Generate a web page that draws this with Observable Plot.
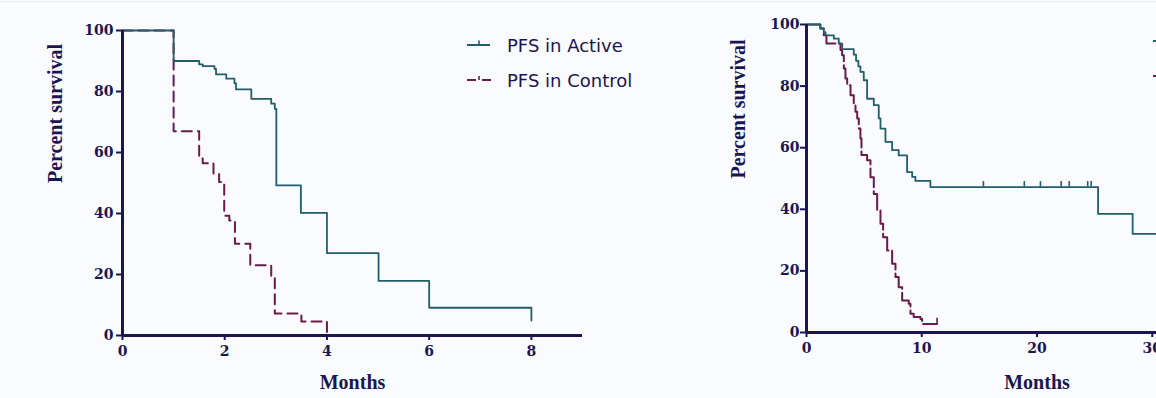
<!DOCTYPE html>
<html>
<head>
<meta charset="utf-8">
<script src="https://cdn.jsdelivr.net/npm/d3@7"></script>
<script src="https://cdn.jsdelivr.net/npm/@observablehq/plot@0.6"></script>
<style>
html,body{margin:0;padding:0;background:#f9fbfe;overflow:hidden;}
#wrap{position:relative;width:1156px;height:398px;overflow:hidden;background:#f9fbfe;}
.panel{position:absolute;top:0;overflow:hidden;}
.panel svg{max-width:none !important;height:398px !important;}
.topline{position:absolute;left:0;top:1px;width:1156px;height:1px;background:#e8ebf0;}
</style>
</head>
<body>
<div id="wrap"><div class="topline"></div></div>
<script>
// ---- Left panel data ----
const leftXTicks = [0, 2, 4, 6, 8];
const leftActiveMonths = [0, 1.0, 1.5, 1.57, 1.8, 1.83, 2.03, 2.19, 2.22, 2.52, 2.91, 2.98, 3.01, 3.49, 4.0, 5.01, 6.0, 8.0];
const leftActiveSurv   = [100, 90, 88.9, 88.3, 87.4, 85.6, 84.2, 82.7, 80.7, 77.6, 76.0, 74.3, 49.2, 40.2, 27.0, 17.9, 9.1, 4.9];
const leftControlMonths = [0, 1.0, 1.5, 1.57, 1.78, 1.89, 1.99, 2.09, 2.2, 2.5, 2.91, 2.98, 3.5, 4.0];
const leftControlSurv   = [100, 67, 58, 56.5, 53, 50.3, 39.3, 37.7, 30.1, 23, 19.2, 7.2, 4.6, 0];

// ---- Right panel data ----
const rightXTicks = [0, 10, 20, 30, 40];
const rightActiveMonths = [0, 1.2, 1.5, 1.65, 2.37, 2.8, 3.1, 4.1, 4.3, 4.5, 4.68, 4.97, 5.26, 5.84, 6.27, 6.42, 6.85, 7.43, 8.0, 8.73, 9.17, 9.45, 10.75, 25.3, 28.3, 34];
const rightActiveSurv   = [100, 98.7, 97.5, 96.5, 95.4, 93.8, 92.0, 90.2, 88.2, 86.4, 84.6, 81.9, 75.9, 73.8, 69.5, 66.2, 61.9, 59.2, 57.5, 52.1, 50.5, 49.2, 47.2, 38.5, 32.0, 32.0];
const rightActiveCensorMonths = [15.35, 18.9, 20.3, 22.1, 22.8, 24.4, 24.7];
const rightActiveCensorSurv   = [47.2, 47.2, 47.2, 47.2, 47.2, 47.2, 47.2];
const rightControlMonths = [0, 1.2, 1.5, 1.73, 2.95, 3.09, 3.24, 3.38, 3.53, 3.82, 4.1, 4.25, 4.4, 4.54, 4.68, 4.77, 5.26, 5.55, 5.84, 6.13, 6.42, 6.65, 7.0, 7.43, 7.72, 8.0, 8.3, 8.87, 9.02, 9.3, 9.89, 10.03, 11.33];
const rightControlSurv   = [100, 98.7, 96.5, 93.8, 91.7, 90.0, 85.7, 82.5, 80.3, 77.0, 74.4, 71.7, 69.5, 66.2, 63.0, 57.6, 55.9, 50.4, 45.0, 39.6, 35.3, 30.9, 26.6, 22.3, 18.0, 14.7, 10.4, 9.3, 6.1, 5.0, 4.4, 2.8, 2.8];
const rightControlCensorMonths = [11.33];
const rightControlCensorSurv   = [2.8];

const yTicks = [0, 20, 40, 60, 80, 100];
const seriesNames = ["PFS in Active", "PFS in Control"];
const yLabel = "Percent survival";
const xLabel = "Months";

const navy = "#1b1652";
const teal = "#215e6c";
const maroon = "#6a1a4b";

const toRows = (ms, ss) => ms.map((m, i) => ({m, s: ss[i]}));

function panel(o) {
  const active = toRows(o.activeM, o.activeS);
  const control = toRows(o.controlM, o.controlS);
  const aC = toRows(o.aCensorM || [], o.aCensorS || []);
  const cC = toRows(o.cCensorM || [], o.cCensorS || []);
  return Plot.plot({
    width: o.width, height: 398,
    marginLeft: o.marginLeft, marginRight: o.marginRight,
    marginTop: o.marginTop, marginBottom: o.marginBottom,
    x: {domain: o.xDomain},
    y: {domain: [0, 100]},
    style: {background: "transparent", color: navy, fontFamily: "DejaVu Serif", fontSize: "14px", fontWeight: "bold", overflow: "visible", maxWidth: "none"},
    marks: [
      Plot.line(control, {x: "m", y: "s", curve: "step-after", stroke: maroon, strokeWidth: 2, strokeDasharray: o.dash}),
      Plot.ruleX(cC, {x: "m", y1: "s", y2: d => d.s + 1.8, stroke: maroon, strokeWidth: 1.6}),
      Plot.line(active, {x: "m", y: "s", curve: "step-after", stroke: teal, strokeWidth: 1.8}),
      Plot.ruleX(aC, {x: "m", y1: "s", y2: d => d.s + 1.8, stroke: teal, strokeWidth: 1.6}),
      Plot.axisY({ticks: yTicks, tickSize: 6, tickPadding: o.yPad, strokeWidth: 2, label: null}),
      Plot.axisX({ticks: o.xTicks, tickSize: 5, tickPadding: 6, strokeWidth: 2, label: null}),
      Plot.ruleX([0], {stroke: navy, strokeWidth: 3}),
      Plot.ruleY([0], {stroke: navy, strokeWidth: 3}),
      Plot.text([xLabel], {text: d => d, frameAnchor: "bottom", dy: o.monthsDy, lineAnchor: "middle", fontFamily: "Liberation Serif", fontSize: 20, fontWeight: "bold", fill: navy}),
      Plot.text([yLabel], {text: d => d, frameAnchor: "left", rotate: -90, dx: o.labelDx, lineAnchor: "middle", fontFamily: "Liberation Serif", fontSize: 20, fontWeight: "bold", fill: navy})
    ]
  });
}

const wrap = document.getElementById("wrap");

const leftDiv = document.createElement("div");
leftDiv.className = "panel";
leftDiv.style.left = "0px"; leftDiv.style.width = "650px"; leftDiv.style.height = "398px";
leftDiv.append(panel({
  width: 640, marginLeft: 122, marginRight: 58, marginTop: 30, marginBottom: 63,
  xDomain: [0, 9], xTicks: leftXTicks, yPad: 3,
  activeM: leftActiveMonths, activeS: leftActiveSurv,
  controlM: leftControlMonths, controlS: leftControlSurv,
  dash: "10,6", monthsDy: 47, labelDx: -67
}));
wrap.append(leftDiv);

const rightDiv = document.createElement("div");
rightDiv.className = "panel";
rightDiv.style.left = "650px"; rightDiv.style.width = "506px"; rightDiv.style.height = "398px";
rightDiv.append(panel({
  width: 627, marginLeft: 156, marginRight: 10, marginTop: 24, marginBottom: 66,
  xDomain: [0, 40], xTicks: rightXTicks, yPad: 1,
  activeM: rightActiveMonths, activeS: rightActiveSurv,
  controlM: rightControlMonths, controlS: rightControlSurv,
  aCensorM: rightActiveCensorMonths, aCensorS: rightActiveCensorSurv,
  cCensorM: rightControlCensorMonths, cCensorS: rightControlCensorSurv,
  dash: "22,4", monthsDy: 50, labelDx: -68
}));
wrap.append(rightDiv);

// Legend (left panel)
const ns = "http://www.w3.org/2000/svg";
const leg = document.createElementNS(ns, "svg");
leg.setAttribute("width", 200); leg.setAttribute("height", 70);
leg.style.position = "absolute"; leg.style.left = "460px"; leg.style.top = "30px";
leg.innerHTML = `
  <line x1="7" x2="30" y1="15" y2="15" stroke="${teal}" stroke-width="2"/>
  <line x1="19" x2="19" y1="15" y2="10.5" stroke="${teal}" stroke-width="1.6"/>
  <text x="47" y="22" font-family="DejaVu Sans" font-size="18" fill="${navy}">${seriesNames[0]}</text>
  <line x1="7" x2="16" y1="50" y2="50" stroke="${maroon}" stroke-width="2"/>
  <line x1="19" x2="19" y1="50" y2="46" stroke="${maroon}" stroke-width="1.6"/>
  <line x1="22" x2="31" y1="50" y2="50" stroke="${maroon}" stroke-width="2"/>
  <text x="47" y="57" font-family="DejaVu Sans" font-size="18" fill="${navy}">${seriesNames[1]}</text>`;
wrap.append(leg);

// Right panel legend symbols (cut off at the image edge)
const leg2 = document.createElementNS(ns, "svg");
leg2.setAttribute("width", 10); leg2.setAttribute("height", 60);
leg2.style.position = "absolute"; leg2.style.left = "1152px"; leg2.style.top = "30px";
leg2.innerHTML = `
  <line x1="1" x2="10" y1="11" y2="11" stroke="${teal}" stroke-width="2"/>
  <line x1="1" x2="10" y1="46" y2="46" stroke="${maroon}" stroke-width="2"/>`;
wrap.append(leg2);
</script>
</body>
</html>
